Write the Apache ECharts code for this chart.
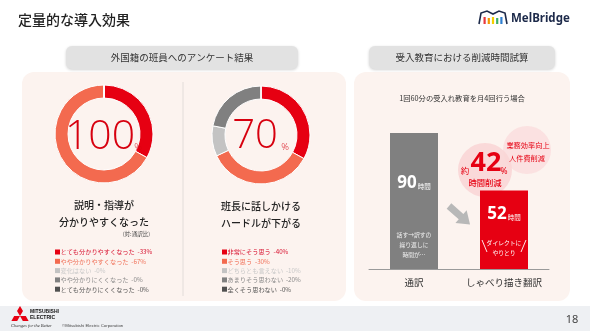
<!DOCTYPE html>
<html><head><meta charset="utf-8">
<script src="https://cdn.jsdelivr.net/npm/echarts@6/dist/echarts.min.js"></script>
<style>html,body{margin:0;padding:0;background:#fff}#main{width:590px;height:331px}</style>
</head><body><div id="main"></div>
<script>
// ---------- data ----------
const pageTitle = '定量的な導入効果';
const leftHeader = '外国籍の班員へのアンケート結果';
const rightHeader = '受入教育における削減時間試算';

const survey1Categories = ['とても分かりやすくなった','やや分かりやすくなった','変化はない','やや分かりにくくなった','とても分かりにくくなった'];
const survey1Percent = [33, 67, 0, 0, 0];
const survey1Headline = '100';
const survey1Caption = ['説明・指導が','分かりやすくなった'];

const survey2Categories = ['非常にそう思う','そう思う','どちらとも言えない','あまりそう思わない','全くそう思わない'];
const survey2Percent = [40, 30, 10, 20, 0];
const survey2ArcShares = [33, 35, 10, 22, 0]; // arc sizes as drawn in the picture
const survey2Headline = '70';
const survey2Caption = ['班長に話しかける','ハードルが下がる'];

const barCategories = ['通訳','しゃべり描き翻訳'];
const barHours = [90, 52];
const reductionPercent = 42;

// ---------- styles ----------
const FF = '"Noto Sans CJK JP","Noto Sans",sans-serif';
const segColors = ['#e60012','#f36a4f','#c3c3c3','#808080','#505050'];
const legendTextColors = ['#d8102e','#f07058','#c8c8c8','#8a8a8a','#555555'];
const panelBg = '#fcf3ef';

function txt(x, y, text, size, color, o) {
  o = o || {};
  return {type:'text', z: o.z || 100, silent:true, style:{
    x, y, text, fontSize:size, fontFamily:o.ff || FF, fontWeight:o.fw || 'normal',
    fontStyle:o.fs || 'normal', fill:color, textAlign:o.align || 'left', textVerticalAlign:'middle'
  }};
}

const g = [];
// footer
g.push({type:'rect', z:-5, shape:{x:0,y:306,width:590,height:25}, style:{fill:'#eef0f3'}});
// panels
g.push({type:'rect', z:-5, shape:{x:22,y:72,width:324,height:229,r:12}, style:{fill:panelBg}});
g.push({type:'rect', z:-5, shape:{x:354,y:72,width:216,height:229,r:12}, style:{fill:panelBg}});
g.push({type:'line', z:-4, shape:{x1:183,y1:82,x2:183,y2:296}, style:{stroke:'#e2dcd9', lineWidth:1}});
// header pills
g.push({type:'rect', z:-3, shape:{x:66,y:46,width:232,height:23,r:6}, style:{fill:'#e2e2e2', shadowBlur:3, shadowColor:'rgba(0,0,0,0.18)', shadowOffsetY:1}});
g.push({type:'rect', z:-3, shape:{x:369,y:46,width:186,height:23,r:6}, style:{fill:'#e2e2e2', shadowBlur:3, shadowColor:'rgba(0,0,0,0.18)', shadowOffsetY:1}});
g.push(txt(182, 57.5, leftHeader, 9.5, '#333', {align:'center'}));
g.push(txt(462, 57.5, rightHeader, 9.5, '#333', {align:'center'}));
// title
g.push(txt(18, 20, pageTitle, 14, '#222', {fw:'500'}));
// MelBridge logo
g.push({type:'polyline', z:100, shape:{points:[[479,24],[481,13],[487,11],[493,14],[499,11],[505,13],[507,24]]}, style:{stroke:'#1d2a4a', lineWidth:1.6, fill:null}});
['#e8383d','#f39800','#f5d000','#3db06a','#2f7fd0'].forEach((c,i)=>{
  g.push({type:'rect', z:100, shape:{x:483.5+i*4.2, y:17+ (i%2), width:2.2, height:7-(i%2)}, style:{fill:c}});
});
g.push(txt(511, 18.5, 'MelBridge', 11.5, '#1d2a4a', {fw:'bold', ff:'"Noto Sans",sans-serif'}));
// Mitsubishi logo
const dia = [[0,-5],[3,0],[0,5],[-3,0]];
[[20,311,0],[15.7,318.5,2.094],[24.3,318.5,-2.094]].forEach(d=>{
  g.push({type:'polygon', z:100, x:d[0], y:d[1], rotation:d[2], shape:{points:dia}, style:{fill:'#e60012'}});
});
g.push(txt(30, 312, 'MITSUBISHI', 5, '#111', {fw:'bold', ff:'"Liberation Sans",sans-serif'}));
g.push(txt(30, 318, 'ELECTRIC', 5, '#111', {fw:'bold', ff:'"Liberation Sans",sans-serif'}));
g.push(txt(11, 326, 'Changes for the Better', 4.5, '#333', {fs:'italic', ff:'"Liberation Serif",serif'}));
g.push(txt(62, 326, '©Mitsubishi Electric Corporation', 4.3, '#444', {ff:'"Liberation Sans",sans-serif'}));
g.push(txt(572, 320, '18', 11, '#444', {ff:'"Noto Sans",sans-serif', align:'center'}));

// donut centers
const bigFont = '"Open Sans","Noto Sans",sans-serif';
g.push(txt(100, 137, survey1Headline, 41, '#d7000f', {align:'center', fw:'300', ff:bigFont}));
g.push(txt(138, 147, '%', 9.5, '#d7000f', {align:'center', fw:'300', ff:bigFont}));
g.push(txt(255, 137, survey2Headline, 40, '#d7000f', {align:'center', fw:'300', ff:bigFont}));
g.push(txt(285, 147, '%', 9.5, '#d7000f', {align:'center', fw:'300', ff:bigFont}));
// captions
survey1Caption.forEach((t,i)=>g.push(txt(104, 205 + i*17, t, 10, '#222', {align:'center', fw:'500'})));
survey2Caption.forEach((t,i)=>g.push(txt(261, 206 + i*17, t, 10, '#222', {align:'center', fw:'500'})));
g.push(txt(150, 234, '(対:通訳比)', 5.5, '#444', {align:'right'}));
// legends
function legend(x, cats, pcts) {
  cats.forEach((c,i)=>{
    const y = 252 + i*9.3;
    g.push({type:'rect', z:100, shape:{x:x, y:y-2.5, width:5, height:5}, style:{fill:segColors[i]}});
    g.push(txt(x+5.5, y, c + '  -' + pcts[i] + '%', 6.2, legendTextColors[i]));
  });
}
legend(55, survey1Categories, survey1Percent);
legend(222, survey2Categories, survey2Percent);

// right panel
g.push(txt(462, 98, '1回60分の受入れ教育を月4回行う場合', 7.3, '#333', {align:'center'}));
g.push({type:'circle', z:1, shape:{cx:527, cy:150, r:24}, style:{fill:'#fbdfdf', opacity:0.9}});
g.push({type:'circle', z:1, shape:{cx:485, cy:170, r:27}, style:{fill:'#fad6d6', opacity:0.9}});
g.push(txt(465, 171, '約', 8.5, '#e60012', {align:'center'}));
g.push(txt(486, 163, String(reductionPercent), 27, '#e60012', {align:'center', fw:'bold', ff:'"Noto Sans",sans-serif'}));
g.push(txt(504, 172, '%', 8.5, '#e60012', {align:'center', ff:'"Noto Sans",sans-serif'}));
g.push(txt(485, 183, '時間削減', 8.3, '#e60012', {align:'center', fw:'500'}));
g.push(txt(528, 145, '業務効率向上', 7.2, '#e60012', {align:'center'}));
g.push(txt(527, 158, '人件費削減', 7.2, '#e60012', {align:'center'}));
// arrow
g.push({type:'polygon', z:100, x:449, y:206, rotation:-0.72, shape:{points:[[0,-3.5],[16,-3.5],[16,-8.5],[28,0],[16,8.5],[16,3.5],[0,3.5]]}, style:{fill:'#b8b8b8'}});
// notes inside bars
['話す→訳すの','繰り返しに','時間が…'].forEach((t,i)=>g.push(txt(414, 235 + i*10, t, 5.8, '#f0f0f0', {align:'center'})));
['ダイレクトに','やりとり'].forEach((t,i)=>g.push(txt(504, 243 + i*10, t, 5.8, '#ffffff', {align:'center'})));
g.push({type:'line', z:100, shape:{x1:482,y1:240,x2:487,y2:252}, style:{stroke:'#fff', lineWidth:0.9}});
g.push({type:'line', z:100, shape:{x1:526,y1:240,x2:521,y2:252}, style:{stroke:'#fff', lineWidth:0.9}});

function pieSeries(center, shares) {
  return {
    type:'pie', center:center, radius:[36,49], startAngle:90, clockwise:true, silent:true, z:1,
    label:{show:false}, labelLine:{show:false}, emphasis:{disabled:true},
    itemStyle:{borderColor:'#ffffff', borderWidth:1},
    data: shares.map((v,i)=>({value:v, name:String(i), itemStyle:{color:segColors[i]}}))
  };
}

const barColors = ['#808080','#e60012'];
const labelDist = [42, 15];

const option = {
  animation:false,
  backgroundColor:'#ffffff',
  grid:{left:369, top:118, width:180, height:151},
  xAxis:{type:'category', data:barCategories, axisLine:{lineStyle:{color:'#9a9a9a', width:1}}, axisTick:{show:false},
    axisLabel:{color:'#333', fontSize:9.5, margin:9, interval:0, fontFamily:FF}},
  yAxis:{type:'value', min:0, max:100, show:false, splitLine:{show:false}},
  series:[
    {type:'bar', barWidth:48, silent:true, z:2,
      data: barHours.map((v,i)=>({value:v, itemStyle:{color:barColors[i]},
        label:{show:true, position:'insideTop', distance:labelDist[i], formatter:'{v|{c}}{u|時間}',
          rich:{v:{fontSize:17, fontWeight:'bold', color:'#fff', fontFamily:'"Noto Sans",sans-serif'},
                u:{fontSize:6.5, color:'#fff', fontFamily:FF, verticalAlign:'bottom', padding:[0,0,2,1]}}}}))
    },
    pieSeries([104,134], survey1Percent),
    pieSeries([261,135], survey2ArcShares)
  ],
  graphic: g
};
const chart = echarts.init(document.getElementById('main'));
chart.setOption(option);
</script></body></html>
